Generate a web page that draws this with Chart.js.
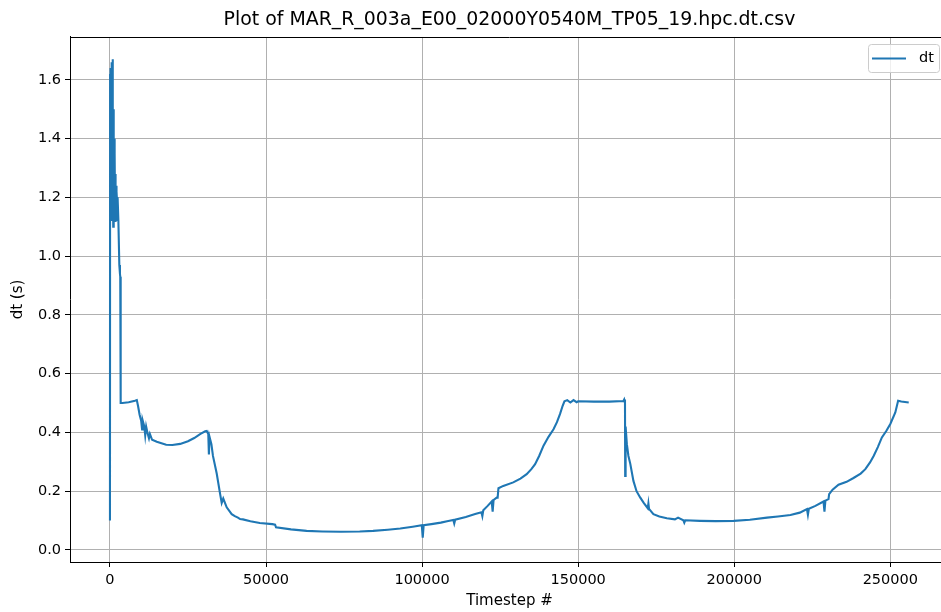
<!DOCTYPE html>
<html>
<head>
<meta charset="utf-8">
<script src="https://cdn.jsdelivr.net/npm/chart.js@4.4.0/dist/chart.umd.min.js"></script>
<style>
  html, body { margin: 0; padding: 0; overflow: hidden; background: #fff; }
  canvas { display: block; }
</style>
</head>
<body>
<canvas id="c" width="949" height="612"></canvas>
<script>
const chartTitle = "Plot of MAR_R_003a_E00_02000Y0540M_TP05_19.hpc.dt.csv";
const xLabel = "Timestep #";
const yLabel = "dt (s)";
const seriesName = "dt";

const timesteps = [
  0, 50, 150, 250, 350, 450, 550, 650, 750, 850, 950, 1050, 1150, 1250, 1350, 1450, 1550, 1650,
  1750, 1850, 1950, 2050, 2150, 2300, 2450, 2700, 3000, 3200, 3300, 3350, 3450, 3500,
  4000, 6000, 8000, 8600, 9000, 9500, 10000, 10300, 10500, 11000, 11300, 11600, 12000, 12500, 12800,
  13500, 15000, 18000, 20000, 22500, 25000, 27000, 29000, 30500, 31000, 31500, 31700, 31900, 32500,
  33000, 34200, 35300, 35800, 36300, 37400, 39000, 40000, 41000, 41700, 42600, 45000, 48000,
  52000, 52900, 53200, 58000, 63000, 68000, 74000, 80000, 84300, 89000, 93000, 97000, 99900,
  100200, 100500, 103000, 106000, 108000, 110000, 110300, 110600, 114000, 117000, 119000, 119300,
  119600, 121000, 122300, 122600, 122900, 123900, 124200, 124460, 126000, 129200, 131500, 133500,
  135000, 136200, 137500, 138900, 140500, 142100, 143200, 144200, 145000, 145600, 146500, 147500,
  148500, 149500, 150000, 155000, 160000, 164500, 164740, 165000, 165060, 165200, 165600, 166100,
  166700, 167700, 168700, 169900, 171000, 172300, 172500, 172700, 174100, 176000, 178400, 181000,
  182000, 183700, 184000, 184300, 189000, 194000, 199800, 205000, 210500, 214000, 218000, 221000,
  223300, 223600, 223900, 226000, 228600, 228900, 229200, 230200, 230400, 231500, 233400, 236000,
  238200, 240500, 242000, 243500, 244700, 246000, 247300, 248700, 250000, 251600, 252500, 253500,
  255900
];

const dtValues = [
  0.10, 1.62, 1.55, 1.64, 1.30, 1.66, 1.12, 1.58, 1.20, 1.67, 1.35, 1.10, 1.50, 1.15, 1.40, 1.18, 1.35, 1.12,
  1.28, 1.15, 1.24, 1.12, 1.22, 1.18, 1.20, 1.12, 0.97, 0.94, 0.93, 0.56, 0.55, 0.50,
  0.500, 0.503, 0.508, 0.510, 0.49, 0.46, 0.44, 0.41, 0.44, 0.42, 0.39, 0.42, 0.40, 0.38, 0.395,
  0.375, 0.368, 0.358, 0.357, 0.361, 0.370, 0.381, 0.395, 0.404, 0.405, 0.395, 0.325, 0.385, 0.36,
  0.32, 0.26, 0.19, 0.16, 0.175, 0.145, 0.122, 0.115, 0.11, 0.105, 0.104, 0.098, 0.092,
  0.088, 0.086, 0.077, 0.070, 0.065, 0.063, 0.062, 0.063, 0.065, 0.069, 0.073, 0.079, 0.084,
  0.042, 0.084, 0.088, 0.093, 0.098, 0.102, 0.090, 0.103, 0.112, 0.122, 0.128, 0.115,
  0.135, 0.150, 0.165, 0.13, 0.170, 0.178, 0.178, 0.21, 0.218, 0.230, 0.243, 0.258,
  0.275, 0.292, 0.320, 0.355, 0.385, 0.411, 0.435, 0.463, 0.49, 0.506, 0.51, 0.502,
  0.51, 0.503, 0.506, 0.505, 0.505, 0.507, 0.512, 0.50, 0.252, 0.42, 0.36, 0.32,
  0.293, 0.235, 0.20, 0.178, 0.16, 0.142, 0.158, 0.140, 0.122, 0.114, 0.108, 0.104,
  0.11, 0.101, 0.093, 0.101, 0.099, 0.098, 0.099, 0.103, 0.110, 0.114, 0.119, 0.127,
  0.139, 0.120, 0.140, 0.150, 0.165, 0.130, 0.168, 0.173, 0.19, 0.205, 0.222, 0.232,
  0.245, 0.260, 0.275, 0.298, 0.321, 0.350, 0.383, 0.405, 0.429, 0.468, 0.508, 0.505,
  0.502
];

const xTickValues = [0, 50000, 100000, 150000, 200000, 250000];
const yTickValues = [0.0, 0.2, 0.4, 0.6, 0.8, 1.0, 1.2, 1.4, 1.6];

const FONT = "'DejaVu Sans', sans-serif";
const LINE_COLOR = "#1f77b4";

const frameAndLegend = {
  id: "frameAndLegend",
  afterDraw(chart) {
    const { ctx, chartArea } = chart;
    ctx.save();
    ctx.strokeStyle = "#000";
    ctx.lineWidth = 1;
    ctx.beginPath();
    ctx.moveTo(chartArea.left, Math.round(chartArea.top) + 0.5);
    ctx.lineTo(chartArea.right, Math.round(chartArea.top) + 0.5);
    ctx.stroke();
    const bx = 868.5, by = 44.5, bw = 71, bh = 28, r = 3;
    ctx.beginPath();
    ctx.moveTo(bx + r, by);
    ctx.lineTo(bx + bw - r, by);
    ctx.arcTo(bx + bw, by, bx + bw, by + r, r);
    ctx.lineTo(bx + bw, by + bh - r);
    ctx.arcTo(bx + bw, by + bh, bx + bw - r, by + bh, r);
    ctx.lineTo(bx + r, by + bh);
    ctx.arcTo(bx, by + bh, bx, by + bh - r, r);
    ctx.lineTo(bx, by + r);
    ctx.arcTo(bx, by, bx + r, by, r);
    ctx.closePath();
    ctx.fillStyle = "rgba(255,255,255,0.8)";
    ctx.fill();
    ctx.strokeStyle = "#cccccc";
    ctx.lineWidth = 1;
    ctx.stroke();
    ctx.strokeStyle = LINE_COLOR;
    ctx.lineWidth = 2.1;
    ctx.beginPath();
    ctx.moveTo(872, 58.5);
    ctx.lineTo(906, 58.5);
    ctx.stroke();
    ctx.fillStyle = "#000";
    ctx.font = "14.5px " + FONT;
    ctx.textBaseline = "middle";
    ctx.textAlign = "left";
    ctx.fillText(seriesName, 919, 58.5);
    ctx.restore();
  }
};

new Chart(document.getElementById("c"), {
  type: "line",
  data: {
    datasets: [{
      label: seriesName,
      data: timesteps.map((t, i) => ({ x: t, y: dtValues[i] })),
      borderColor: LINE_COLOR,
      backgroundColor: LINE_COLOR,
      borderWidth: 2.1,
      pointRadius: 0,
      tension: 0,
      fill: false
    }]
  },
  options: {
    responsive: false,
    animation: false,
    devicePixelRatio: 1,
    layout: { padding: { left: 0, right: 0, top: 0, bottom: 0 } },
    plugins: {
      legend: { display: false },
      tooltip: { enabled: false },
      title: {
        display: true,
        text: chartTitle,
        fullSize: false,
        color: "#000",
        font: { family: FONT, size: 18.9, weight: "normal", lineHeight: 1.2 },
        padding: { top: 9, bottom: 5.3 }
      }
    },
    scales: {
      x: {
        type: "linear",
        min: -12800,
        max: 268800,
        afterFit(scale) { scale.height = 50; },
        afterBuildTicks(scale) { scale.ticks = xTickValues.map(v => ({ value: v })); },
        ticks: {
          color: "#000",
          font: { family: FONT, size: 14.5 },
          padding: 5,
          maxRotation: 0,
          autoSkip: false,
          callback: v => String(v)
        },
        grid: { color: "#b0b0b0", lineWidth: 1, tickLength: 5, tickColor: "#000", drawTicks: true },
        border: { display: true, color: "#000", width: 1 },
        title: {
          display: true,
          text: xLabel,
          color: "#000",
          font: { family: FONT, size: 15, lineHeight: 1.2 },
          padding: { top: 0, bottom: 2 }
        }
      },
      y: {
        type: "linear",
        min: -0.041,
        max: 1.746,
        afterFit(scale) { scale.width = 70; },
        afterBuildTicks(scale) { scale.ticks = yTickValues.map(v => ({ value: v })); },
        ticks: {
          color: "#000",
          font: { family: FONT, size: 14.5 },
          padding: 4,
          autoSkip: false,
          callback: v => Number(v).toFixed(1)
        },
        grid: { color: "#b0b0b0", lineWidth: 1, tickLength: 5, tickColor: "#000", drawTicks: true },
        border: { display: true, color: "#000", width: 1 },
        title: {
          display: true,
          text: yLabel,
          color: "#000",
          font: { family: FONT, size: 15, lineHeight: 1.2 },
          padding: { top: 9, bottom: 0 }
        }
      }
    }
  },
  plugins: [frameAndLegend]
});
</script>
</body>
</html>
